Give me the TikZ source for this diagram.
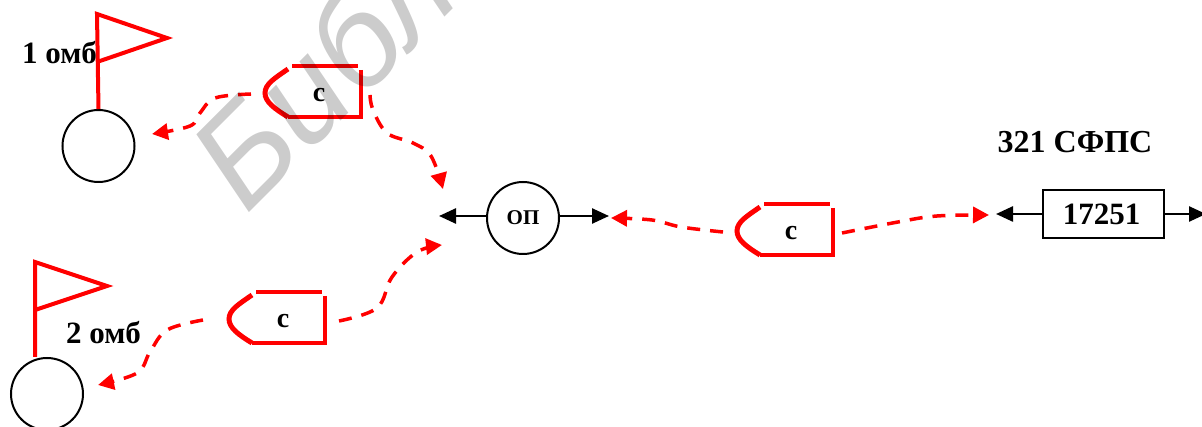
\documentclass[tikz,border=0pt]{standalone}
\usepackage{fontspec}
\setmainfont{Liberation Serif}
\newfontfamily\markfont{Liberation Sans}
\usetikzlibrary{arrows.meta, positioning}
\definecolor{routered}{RGB}{255, 0, 0}
\tikzset{
  dasharrow/.style={routered, line width=3.5pt, dash pattern=on 13pt off 10pt, -{Triangle[length=16pt, width=16pt]}},
  linkarrow/.style={black, line width=2.5pt, -{Triangle[length=17pt, width=15pt]}},
  flagline/.style={routered, line width=4pt, line join=miter},
  unitcircle/.style={draw=black, line width=2pt, circle, minimum size=72pt, inner sep=0pt},
  unitlabel/.style={font=\fontsize{31}{31}\selectfont\bfseries, anchor=base west, inner sep=0pt},
  boat/.pic={
    \draw[routered, line width=4pt] (-21,-26) -- (45,-26);
    \draw[routered, line width=4.5pt] (48,-22) -- (48,25) -- (-25,25);
    \draw[routered, line width=5pt] (-25,-23) .. controls (-38,-14) and (-48,-8) .. (-48,1) .. controls (-48,10) and (-38,17) .. (-25,25);
    \node[font=\fontsize{28}{28}\selectfont\bfseries, inner sep=0pt] (-c) at (6,3) {с};
    \coordinate (-w) at (-62,2);
    \coordinate (-e) at (57,3);
  }
}
\begin{document}
\begin{tikzpicture}[x=1pt, y=-1pt]
  \clip (0,0) rectangle (1202,427);
  \fill[white] (0,0) rectangle (1202,427);

  % first unit
  \node[unitcircle] (ua) at (98.5,146) {};
  \draw[flagline] (ua.north) -- (97,14) -- (167,38) -- (97,62);
  \node[unitlabel] (ula) at (22,63.5) {1 омб};

  % second unit
  \node[unitcircle] (ub) at (47,394) {};
  \draw[flagline] (35,357) -- (35,262) -- (107,286) -- (35,310);
  \node[unitlabel] (ulb) at (66,344) {2 омб};

  % the post and its arrows
  \node[unitcircle] (op) at (523,218) {};
  \node[font=\fontsize{21}{21}\selectfont\bfseries, inner sep=0pt] (opt) at (op) {ОП};
  \coordinate (opl) at (439,216);
  \coordinate (opr) at (609,216);
  \draw[linkarrow] (op.west |- opl) -- (opl);
  \draw[linkarrow] (op.east |- opr) -- (opr);

  % right box
  \node[draw=black, line width=2pt, minimum width=121pt, minimum height=48pt, inner sep=0pt] (bx) at (1103.5,214) {};
  \node[font=\fontsize{31}{31}\selectfont\bfseries, inner sep=0pt] (bxn) at (1101.5,214) {17251};
  \node[font=\fontsize{32}{32}\selectfont\bfseries, anchor=base, inner sep=0pt] (bxt) at (1075,153) {321 СФПС};
  \coordinate (bxl) at (996,214);
  \coordinate (bxr) at (1206,214);
  \draw[linkarrow] (bx.west) -- (bxl);
  \draw[linkarrow] (bx.east) -- (bxr);

  % boats
  \pic (sa) at (313,92) {boat};
  \pic (sb) at (277,318) {boat};
  \pic (sc) at (785,230) {boat};

  % free ends of the red arrows
  \coordinate (ta) at (152,134);
  \coordinate (tb) at (443,189);
  \coordinate (tc) at (98,385);
  \coordinate (td) at (442,245);
  \coordinate (te) at (611,218);
  \coordinate (tf) at (989,215);

  \draw[dasharrow] plot[smooth, tension=0.6] coordinates {(sa-w) (215,98) (200,113) (190,126) (ta)};
  \draw[dasharrow] plot[smooth, tension=0.6] coordinates {(sa-e) (373,110) (387,133) (413,143) (431,156) (tb)};
  \draw[dasharrow] plot[smooth, tension=0.6] coordinates {([xshift=-12pt]sb-w) (167,330) (150,352) (137,373) (tc)};
  \draw[dasharrow] plot[smooth, tension=0.6] coordinates {([xshift=5pt]sb-e) (377,308) (392,277) (417,252) (td)};
  \draw[dasharrow] plot[smooth, tension=0.6] coordinates {(sc-w) (681,227) (652,220) (te)};
  \draw[dasharrow] plot[smooth, tension=0.6] coordinates {(sc-e) (898,222) (937,216) (tf)};

  % grey mark across the picture
  \node[rotate=45, anchor=base west, inner sep=0pt, opacity=0.2, text=black, font=\markfont\itshape\fontsize{134}{134}\selectfont] (wm) at (246,216) {Библ};
\end{tikzpicture}
\end{document}
